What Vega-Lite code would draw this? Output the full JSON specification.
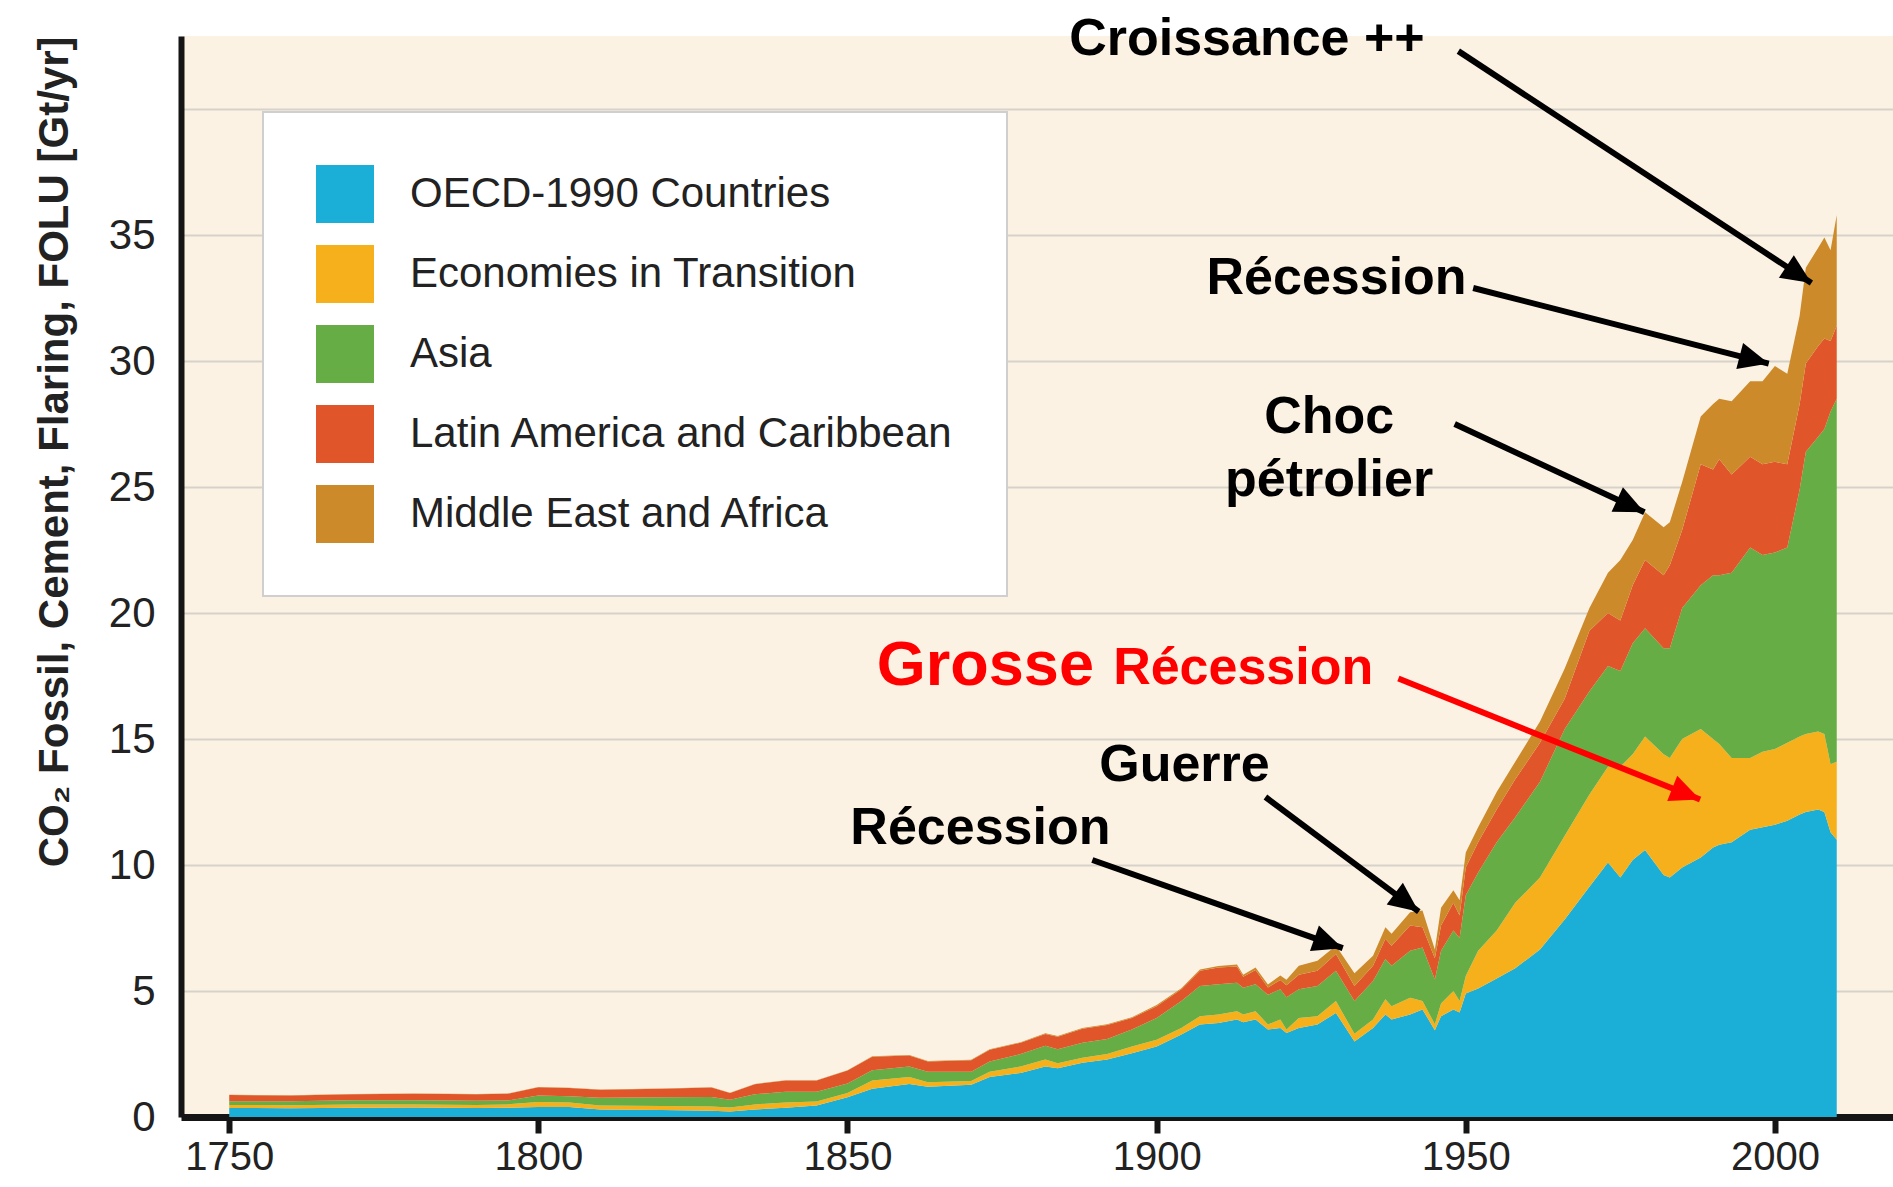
{
  "$schema": "https://vega.github.io/schema/vega-lite/v6.json",
  "width": 1712,
  "height": 1081,
  "autosize": {"type": "none"},
  "padding": {"left": 181, "top": 36, "right": 0, "bottom": 70},
  "background": "white",
  "config": {
    "view": {"fill": "#FCF2E3", "stroke": null},
    "font": "Liberation Sans",
    "legend": {"strokeWidth": 2}
  },
  "datasets": {
    "regionOrder": [
      {"region": "OECD-1990 Countries", "rank": 1},
      {"region": "Economies in Transition", "rank": 2},
      {"region": "Asia", "rank": 3},
      {"region": "Latin America and Caribbean", "rank": 4},
      {"region": "Middle East and Africa", "rank": 5}
    ],
    "emissions": [
      {"year":1750,"region":"OECD-1990 Countries","value":0.36},{"year":1750,"region":"Economies in Transition","value":0.12},{"year":1750,"region":"Asia","value":0.15},{"year":1750,"region":"Latin America and Caribbean","value":0.24},{"year":1750,"region":"Middle East and Africa","value":0.01},
      {"year":1760,"region":"OECD-1990 Countries","value":0.35},{"year":1760,"region":"Economies in Transition","value":0.12},{"year":1760,"region":"Asia","value":0.16},{"year":1760,"region":"Latin America and Caribbean","value":0.22},{"year":1760,"region":"Middle East and Africa","value":0.01},
      {"year":1770,"region":"OECD-1990 Countries","value":0.37},{"year":1770,"region":"Economies in Transition","value":0.13},{"year":1770,"region":"Asia","value":0.16},{"year":1770,"region":"Latin America and Caribbean","value":0.24},{"year":1770,"region":"Middle East and Africa","value":0.01},
      {"year":1780,"region":"OECD-1990 Countries","value":0.38},{"year":1780,"region":"Economies in Transition","value":0.12},{"year":1780,"region":"Asia","value":0.16},{"year":1780,"region":"Latin America and Caribbean","value":0.26},{"year":1780,"region":"Middle East and Africa","value":0.01},
      {"year":1790,"region":"OECD-1990 Countries","value":0.36},{"year":1790,"region":"Economies in Transition","value":0.12},{"year":1790,"region":"Asia","value":0.16},{"year":1790,"region":"Latin America and Caribbean","value":0.26},{"year":1790,"region":"Middle East and Africa","value":0.01},
      {"year":1795,"region":"OECD-1990 Countries","value":0.37},{"year":1795,"region":"Economies in Transition","value":0.13},{"year":1795,"region":"Asia","value":0.15},{"year":1795,"region":"Latin America and Caribbean","value":0.27},{"year":1795,"region":"Middle East and Africa","value":0.01},
      {"year":1800,"region":"OECD-1990 Countries","value":0.40},{"year":1800,"region":"Economies in Transition","value":0.20},{"year":1800,"region":"Asia","value":0.25},{"year":1800,"region":"Latin America and Caribbean","value":0.33},{"year":1800,"region":"Middle East and Africa","value":0.01},
      {"year":1805,"region":"OECD-1990 Countries","value":0.40},{"year":1805,"region":"Economies in Transition","value":0.18},{"year":1805,"region":"Asia","value":0.24},{"year":1805,"region":"Latin America and Caribbean","value":0.33},{"year":1805,"region":"Middle East and Africa","value":0.01},
      {"year":1810,"region":"OECD-1990 Countries","value":0.30},{"year":1810,"region":"Economies in Transition","value":0.16},{"year":1810,"region":"Asia","value":0.30},{"year":1810,"region":"Latin America and Caribbean","value":0.32},{"year":1810,"region":"Middle East and Africa","value":0.01},
      {"year":1820,"region":"OECD-1990 Countries","value":0.28},{"year":1820,"region":"Economies in Transition","value":0.16},{"year":1820,"region":"Asia","value":0.34},{"year":1820,"region":"Latin America and Caribbean","value":0.34},{"year":1820,"region":"Middle East and Africa","value":0.01},
      {"year":1828,"region":"OECD-1990 Countries","value":0.25},{"year":1828,"region":"Economies in Transition","value":0.17},{"year":1828,"region":"Asia","value":0.37},{"year":1828,"region":"Latin America and Caribbean","value":0.38},{"year":1828,"region":"Middle East and Africa","value":0.01},
      {"year":1831,"region":"OECD-1990 Countries","value":0.22},{"year":1831,"region":"Economies in Transition","value":0.16},{"year":1831,"region":"Asia","value":0.30},{"year":1831,"region":"Latin America and Caribbean","value":0.27},{"year":1831,"region":"Middle East and Africa","value":0.01},
      {"year":1835,"region":"OECD-1990 Countries","value":0.30},{"year":1835,"region":"Economies in Transition","value":0.20},{"year":1835,"region":"Asia","value":0.40},{"year":1835,"region":"Latin America and Caribbean","value":0.40},{"year":1835,"region":"Middle East and Africa","value":0.01},
      {"year":1840,"region":"OECD-1990 Countries","value":0.37},{"year":1840,"region":"Economies in Transition","value":0.21},{"year":1840,"region":"Asia","value":0.42},{"year":1840,"region":"Latin America and Caribbean","value":0.45},{"year":1840,"region":"Middle East and Africa","value":0.01},
      {"year":1845,"region":"OECD-1990 Countries","value":0.46},{"year":1845,"region":"Economies in Transition","value":0.16},{"year":1845,"region":"Asia","value":0.38},{"year":1845,"region":"Latin America and Caribbean","value":0.45},{"year":1845,"region":"Middle East and Africa","value":0.01},
      {"year":1850,"region":"OECD-1990 Countries","value":0.78},{"year":1850,"region":"Economies in Transition","value":0.17},{"year":1850,"region":"Asia","value":0.38},{"year":1850,"region":"Latin America and Caribbean","value":0.52},{"year":1850,"region":"Middle East and Africa","value":0.01},
      {"year":1854,"region":"OECD-1990 Countries","value":1.12},{"year":1854,"region":"Economies in Transition","value":0.33},{"year":1854,"region":"Asia","value":0.41},{"year":1854,"region":"Latin America and Caribbean","value":0.53},{"year":1854,"region":"Middle East and Africa","value":0.02},
      {"year":1860,"region":"OECD-1990 Countries","value":1.31},{"year":1860,"region":"Economies in Transition","value":0.28},{"year":1860,"region":"Asia","value":0.41},{"year":1860,"region":"Latin America and Caribbean","value":0.44},{"year":1860,"region":"Middle East and Africa","value":0.02},
      {"year":1863,"region":"OECD-1990 Countries","value":1.20},{"year":1863,"region":"Economies in Transition","value":0.18},{"year":1863,"region":"Asia","value":0.42},{"year":1863,"region":"Latin America and Caribbean","value":0.40},{"year":1863,"region":"Middle East and Africa","value":0.02},
      {"year":1870,"region":"OECD-1990 Countries","value":1.28},{"year":1870,"region":"Economies in Transition","value":0.15},{"year":1870,"region":"Asia","value":0.37},{"year":1870,"region":"Latin America and Caribbean","value":0.45},{"year":1870,"region":"Middle East and Africa","value":0.02},
      {"year":1873,"region":"OECD-1990 Countries","value":1.59},{"year":1873,"region":"Economies in Transition","value":0.21},{"year":1873,"region":"Asia","value":0.40},{"year":1873,"region":"Latin America and Caribbean","value":0.47},{"year":1873,"region":"Middle East and Africa","value":0.02},
      {"year":1878,"region":"OECD-1990 Countries","value":1.75},{"year":1878,"region":"Economies in Transition","value":0.25},{"year":1878,"region":"Asia","value":0.50},{"year":1878,"region":"Latin America and Caribbean","value":0.45},{"year":1878,"region":"Middle East and Africa","value":0.02},
      {"year":1882,"region":"OECD-1990 Countries","value":2.00},{"year":1882,"region":"Economies in Transition","value":0.28},{"year":1882,"region":"Asia","value":0.55},{"year":1882,"region":"Latin America and Caribbean","value":0.46},{"year":1882,"region":"Middle East and Africa","value":0.03},
      {"year":1884,"region":"OECD-1990 Countries","value":1.93},{"year":1884,"region":"Economies in Transition","value":0.20},{"year":1884,"region":"Asia","value":0.56},{"year":1884,"region":"Latin America and Caribbean","value":0.49},{"year":1884,"region":"Middle East and Africa","value":0.03},
      {"year":1888,"region":"OECD-1990 Countries","value":2.15},{"year":1888,"region":"Economies in Transition","value":0.20},{"year":1888,"region":"Asia","value":0.60},{"year":1888,"region":"Latin America and Caribbean","value":0.55},{"year":1888,"region":"Middle East and Africa","value":0.03},
      {"year":1892,"region":"OECD-1990 Countries","value":2.28},{"year":1892,"region":"Economies in Transition","value":0.22},{"year":1892,"region":"Asia","value":0.60},{"year":1892,"region":"Latin America and Caribbean","value":0.55},{"year":1892,"region":"Middle East and Africa","value":0.03},
      {"year":1896,"region":"OECD-1990 Countries","value":2.53},{"year":1896,"region":"Economies in Transition","value":0.27},{"year":1896,"region":"Asia","value":0.67},{"year":1896,"region":"Latin America and Caribbean","value":0.46},{"year":1896,"region":"Middle East and Africa","value":0.03},
      {"year":1900,"region":"OECD-1990 Countries","value":2.80},{"year":1900,"region":"Economies in Transition","value":0.27},{"year":1900,"region":"Asia","value":0.86},{"year":1900,"region":"Latin America and Caribbean","value":0.47},{"year":1900,"region":"Middle East and Africa","value":0.04},
      {"year":1904,"region":"OECD-1990 Countries","value":3.27},{"year":1904,"region":"Economies in Transition","value":0.26},{"year":1904,"region":"Asia","value":1.07},{"year":1904,"region":"Latin America and Caribbean","value":0.47},{"year":1904,"region":"Middle East and Africa","value":0.04},
      {"year":1907,"region":"OECD-1990 Countries","value":3.67},{"year":1907,"region":"Economies in Transition","value":0.33},{"year":1907,"region":"Asia","value":1.20},{"year":1907,"region":"Latin America and Caribbean","value":0.60},{"year":1907,"region":"Middle East and Africa","value":0.05},
      {"year":1910,"region":"OECD-1990 Countries","value":3.73},{"year":1910,"region":"Economies in Transition","value":0.34},{"year":1910,"region":"Asia","value":1.20},{"year":1910,"region":"Latin America and Caribbean","value":0.66},{"year":1910,"region":"Middle East and Africa","value":0.06},
      {"year":1913,"region":"OECD-1990 Countries","value":3.87},{"year":1913,"region":"Economies in Transition","value":0.33},{"year":1913,"region":"Asia","value":1.13},{"year":1913,"region":"Latin America and Caribbean","value":0.64},{"year":1913,"region":"Middle East and Africa","value":0.08},
      {"year":1914,"region":"OECD-1990 Countries","value":3.76},{"year":1914,"region":"Economies in Transition","value":0.31},{"year":1914,"region":"Asia","value":1.06},{"year":1914,"region":"Latin America and Caribbean","value":0.44},{"year":1914,"region":"Middle East and Africa","value":0.08},
      {"year":1916,"region":"OECD-1990 Countries","value":3.87},{"year":1916,"region":"Economies in Transition","value":0.33},{"year":1916,"region":"Asia","value":1.07},{"year":1916,"region":"Latin America and Caribbean","value":0.56},{"year":1916,"region":"Middle East and Africa","value":0.10},
      {"year":1918,"region":"OECD-1990 Countries","value":3.47},{"year":1918,"region":"Economies in Transition","value":0.20},{"year":1918,"region":"Asia","value":1.18},{"year":1918,"region":"Latin America and Caribbean","value":0.29},{"year":1918,"region":"Middle East and Africa","value":0.12},
      {"year":1920,"region":"OECD-1990 Countries","value":3.53},{"year":1920,"region":"Economies in Transition","value":0.34},{"year":1920,"region":"Asia","value":1.20},{"year":1920,"region":"Latin America and Caribbean","value":0.37},{"year":1920,"region":"Middle East and Africa","value":0.18},
      {"year":1921,"region":"OECD-1990 Countries","value":3.33},{"year":1921,"region":"Economies in Transition","value":0.14},{"year":1921,"region":"Asia","value":1.28},{"year":1921,"region":"Latin America and Caribbean","value":0.48},{"year":1921,"region":"Middle East and Africa","value":0.22},
      {"year":1923,"region":"OECD-1990 Countries","value":3.53},{"year":1923,"region":"Economies in Transition","value":0.40},{"year":1923,"region":"Asia","value":1.14},{"year":1923,"region":"Latin America and Caribbean","value":0.58},{"year":1923,"region":"Middle East and Africa","value":0.35},
      {"year":1926,"region":"OECD-1990 Countries","value":3.67},{"year":1926,"region":"Economies in Transition","value":0.33},{"year":1926,"region":"Asia","value":1.20},{"year":1926,"region":"Latin America and Caribbean","value":0.60},{"year":1926,"region":"Middle East and Africa","value":0.40},
      {"year":1929,"region":"OECD-1990 Countries","value":4.13},{"year":1929,"region":"Economies in Transition","value":0.47},{"year":1929,"region":"Asia","value":1.20},{"year":1929,"region":"Latin America and Caribbean","value":0.67},{"year":1929,"region":"Middle East and Africa","value":0.33},
      {"year":1932,"region":"OECD-1990 Countries","value":3.00},{"year":1932,"region":"Economies in Transition","value":0.30},{"year":1932,"region":"Asia","value":1.30},{"year":1932,"region":"Latin America and Caribbean","value":0.60},{"year":1932,"region":"Middle East and Africa","value":0.50},
      {"year":1935,"region":"OECD-1990 Countries","value":3.53},{"year":1935,"region":"Economies in Transition","value":0.34},{"year":1935,"region":"Asia","value":1.53},{"year":1935,"region":"Latin America and Caribbean","value":0.60},{"year":1935,"region":"Middle East and Africa","value":0.40},
      {"year":1937,"region":"OECD-1990 Countries","value":4.07},{"year":1937,"region":"Economies in Transition","value":0.60},{"year":1937,"region":"Asia","value":1.60},{"year":1937,"region":"Latin America and Caribbean","value":0.80},{"year":1937,"region":"Middle East and Africa","value":0.46},
      {"year":1938,"region":"OECD-1990 Countries","value":3.87},{"year":1938,"region":"Economies in Transition","value":0.53},{"year":1938,"region":"Asia","value":1.60},{"year":1938,"region":"Latin America and Caribbean","value":0.80},{"year":1938,"region":"Middle East and Africa","value":0.47},
      {"year":1941,"region":"OECD-1990 Countries","value":4.07},{"year":1941,"region":"Economies in Transition","value":0.66},{"year":1941,"region":"Asia","value":1.87},{"year":1941,"region":"Latin America and Caribbean","value":1.00},{"year":1941,"region":"Middle East and Africa","value":0.53},
      {"year":1943,"region":"OECD-1990 Countries","value":4.27},{"year":1943,"region":"Economies in Transition","value":0.33},{"year":1943,"region":"Asia","value":2.13},{"year":1943,"region":"Latin America and Caribbean","value":0.80},{"year":1943,"region":"Middle East and Africa","value":0.67},
      {"year":1945,"region":"OECD-1990 Countries","value":3.44},{"year":1945,"region":"Economies in Transition","value":0.24},{"year":1945,"region":"Asia","value":1.78},{"year":1945,"region":"Latin America and Caribbean","value":0.84},{"year":1945,"region":"Middle East and Africa","value":0.35},
      {"year":1946,"region":"OECD-1990 Countries","value":4.00},{"year":1946,"region":"Economies in Transition","value":0.50},{"year":1946,"region":"Asia","value":2.10},{"year":1946,"region":"Latin America and Caribbean","value":1.00},{"year":1946,"region":"Middle East and Africa","value":0.70},
      {"year":1948,"region":"OECD-1990 Countries","value":4.27},{"year":1948,"region":"Economies in Transition","value":0.73},{"year":1948,"region":"Asia","value":2.40},{"year":1948,"region":"Latin America and Caribbean","value":1.10},{"year":1948,"region":"Middle East and Africa","value":0.50},
      {"year":1949,"region":"OECD-1990 Countries","value":4.15},{"year":1949,"region":"Economies in Transition","value":0.45},{"year":1949,"region":"Asia","value":2.50},{"year":1949,"region":"Latin America and Caribbean","value":0.90},{"year":1949,"region":"Middle East and Africa","value":0.60},
      {"year":1950,"region":"OECD-1990 Countries","value":4.90},{"year":1950,"region":"Economies in Transition","value":0.70},{"year":1950,"region":"Asia","value":3.20},{"year":1950,"region":"Latin America and Caribbean","value":1.10},{"year":1950,"region":"Middle East and Africa","value":0.60},
      {"year":1952,"region":"OECD-1990 Countries","value":5.10},{"year":1952,"region":"Economies in Transition","value":1.50},{"year":1952,"region":"Asia","value":3.10},{"year":1952,"region":"Latin America and Caribbean","value":1.20},{"year":1952,"region":"Middle East and Africa","value":0.60},
      {"year":1955,"region":"OECD-1990 Countries","value":5.50},{"year":1955,"region":"Economies in Transition","value":1.90},{"year":1955,"region":"Asia","value":3.50},{"year":1955,"region":"Latin America and Caribbean","value":1.30},{"year":1955,"region":"Middle East and Africa","value":0.70},
      {"year":1958,"region":"OECD-1990 Countries","value":5.90},{"year":1958,"region":"Economies in Transition","value":2.60},{"year":1958,"region":"Asia","value":3.40},{"year":1958,"region":"Latin America and Caribbean","value":1.50},{"year":1958,"region":"Middle East and Africa","value":0.70},
      {"year":1962,"region":"OECD-1990 Countries","value":6.65},{"year":1962,"region":"Economies in Transition","value":2.85},{"year":1962,"region":"Asia","value":3.80},{"year":1962,"region":"Latin America and Caribbean","value":1.55},{"year":1962,"region":"Middle East and Africa","value":0.85},
      {"year":1966,"region":"OECD-1990 Countries","value":7.84},{"year":1966,"region":"Economies in Transition","value":3.32},{"year":1966,"region":"Asia","value":4.24},{"year":1966,"region":"Latin America and Caribbean","value":1.20},{"year":1966,"region":"Middle East and Africa","value":1.20},
      {"year":1970,"region":"OECD-1990 Countries","value":9.14},{"year":1970,"region":"Economies in Transition","value":3.66},{"year":1970,"region":"Asia","value":4.10},{"year":1970,"region":"Latin America and Caribbean","value":2.40},{"year":1970,"region":"Middle East and Africa","value":0.90},
      {"year":1973,"region":"OECD-1990 Countries","value":10.10},{"year":1973,"region":"Economies in Transition","value":3.80},{"year":1973,"region":"Asia","value":4.00},{"year":1973,"region":"Latin America and Caribbean","value":2.10},{"year":1973,"region":"Middle East and Africa","value":1.60},
      {"year":1975,"region":"OECD-1990 Countries","value":9.50},{"year":1975,"region":"Economies in Transition","value":4.40},{"year":1975,"region":"Asia","value":3.80},{"year":1975,"region":"Latin America and Caribbean","value":2.00},{"year":1975,"region":"Middle East and Africa","value":2.40},
      {"year":1977,"region":"OECD-1990 Countries","value":10.20},{"year":1977,"region":"Economies in Transition","value":4.20},{"year":1977,"region":"Asia","value":4.40},{"year":1977,"region":"Latin America and Caribbean","value":2.30},{"year":1977,"region":"Middle East and Africa","value":1.80},
      {"year":1979,"region":"OECD-1990 Countries","value":10.60},{"year":1979,"region":"Economies in Transition","value":4.50},{"year":1979,"region":"Asia","value":4.30},{"year":1979,"region":"Latin America and Caribbean","value":2.70},{"year":1979,"region":"Middle East and Africa","value":1.90},
      {"year":1982,"region":"OECD-1990 Countries","value":9.60},{"year":1982,"region":"Economies in Transition","value":4.80},{"year":1982,"region":"Asia","value":4.20},{"year":1982,"region":"Latin America and Caribbean","value":2.90},{"year":1982,"region":"Middle East and Africa","value":1.90},
      {"year":1983,"region":"OECD-1990 Countries","value":9.50},{"year":1983,"region":"Economies in Transition","value":4.75},{"year":1983,"region":"Asia","value":4.35},{"year":1983,"region":"Latin America and Caribbean","value":3.30},{"year":1983,"region":"Middle East and Africa","value":1.70},
      {"year":1985,"region":"OECD-1990 Countries","value":9.90},{"year":1985,"region":"Economies in Transition","value":5.10},{"year":1985,"region":"Asia","value":5.20},{"year":1985,"region":"Latin America and Caribbean","value":3.10},{"year":1985,"region":"Middle East and Africa","value":1.90},
      {"year":1988,"region":"OECD-1990 Countries","value":10.30},{"year":1988,"region":"Economies in Transition","value":5.10},{"year":1988,"region":"Asia","value":5.70},{"year":1988,"region":"Latin America and Caribbean","value":4.80},{"year":1988,"region":"Middle East and Africa","value":1.90},
      {"year":1990,"region":"OECD-1990 Countries","value":10.70},{"year":1990,"region":"Economies in Transition","value":4.30},{"year":1990,"region":"Asia","value":6.50},{"year":1990,"region":"Latin America and Caribbean","value":4.20},{"year":1990,"region":"Middle East and Africa","value":2.60},
      {"year":1991,"region":"OECD-1990 Countries","value":10.80},{"year":1991,"region":"Economies in Transition","value":4.00},{"year":1991,"region":"Asia","value":6.70},{"year":1991,"region":"Latin America and Caribbean","value":4.60},{"year":1991,"region":"Middle East and Africa","value":2.40},
      {"year":1993,"region":"OECD-1990 Countries","value":10.90},{"year":1993,"region":"Economies in Transition","value":3.35},{"year":1993,"region":"Asia","value":7.35},{"year":1993,"region":"Latin America and Caribbean","value":3.90},{"year":1993,"region":"Middle East and Africa","value":2.90},
      {"year":1996,"region":"OECD-1990 Countries","value":11.40},{"year":1996,"region":"Economies in Transition","value":2.85},{"year":1996,"region":"Asia","value":8.35},{"year":1996,"region":"Latin America and Caribbean","value":3.60},{"year":1996,"region":"Middle East and Africa","value":3.00},
      {"year":1998,"region":"OECD-1990 Countries","value":11.50},{"year":1998,"region":"Economies in Transition","value":3.00},{"year":1998,"region":"Asia","value":7.80},{"year":1998,"region":"Latin America and Caribbean","value":3.60},{"year":1998,"region":"Middle East and Africa","value":3.30},
      {"year":2000,"region":"OECD-1990 Countries","value":11.60},{"year":2000,"region":"Economies in Transition","value":3.00},{"year":2000,"region":"Asia","value":7.80},{"year":2000,"region":"Latin America and Caribbean","value":3.60},{"year":2000,"region":"Middle East and Africa","value":3.80},
      {"year":2002,"region":"OECD-1990 Countries","value":11.76},{"year":2002,"region":"Economies in Transition","value":3.09},{"year":2002,"region":"Asia","value":7.75},{"year":2002,"region":"Latin America and Caribbean","value":3.30},{"year":2002,"region":"Middle East and Africa","value":3.60},
      {"year":2004,"region":"OECD-1990 Countries","value":12.00},{"year":2004,"region":"Economies in Transition","value":3.10},{"year":2004,"region":"Asia","value":9.80},{"year":2004,"region":"Latin America and Caribbean","value":3.40},{"year":2004,"region":"Middle East and Africa","value":3.50},
      {"year":2005,"region":"OECD-1990 Countries","value":12.10},{"year":2005,"region":"Economies in Transition","value":3.10},{"year":2005,"region":"Asia","value":11.20},{"year":2005,"region":"Latin America and Caribbean","value":3.50},{"year":2005,"region":"Middle East and Africa","value":3.80},
      {"year":2007,"region":"OECD-1990 Countries","value":12.20},{"year":2007,"region":"Economies in Transition","value":3.10},{"year":2007,"region":"Asia","value":11.70},{"year":2007,"region":"Latin America and Caribbean","value":3.60},{"year":2007,"region":"Middle East and Africa","value":3.90},
      {"year":2008,"region":"OECD-1990 Countries","value":12.10},{"year":2008,"region":"Economies in Transition","value":3.10},{"year":2008,"region":"Asia","value":12.10},{"year":2008,"region":"Latin America and Caribbean","value":3.60},{"year":2008,"region":"Middle East and Africa","value":4.00},
      {"year":2009,"region":"OECD-1990 Countries","value":11.30},{"year":2009,"region":"Economies in Transition","value":2.70},{"year":2009,"region":"Asia","value":14.00},{"year":2009,"region":"Latin America and Caribbean","value":2.80},{"year":2009,"region":"Middle East and Africa","value":3.60},
      {"year":2010,"region":"OECD-1990 Countries","value":11.00},{"year":2010,"region":"Economies in Transition","value":3.10},{"year":2010,"region":"Asia","value":14.40},{"year":2010,"region":"Latin America and Caribbean","value":2.90},{"year":2010,"region":"Middle East and Africa","value":4.40}
    ],
    "arrowsBlack": [
      {"x1":1948.8,"y1":42.3,"x2":2005.9,"y2":33.1,"angle":33.5},
      {"x1":1951.2,"y1":32.9,"x2":1999.0,"y2":29.9,"angle":14.6},
      {"x1":1948.2,"y1":27.5,"x2":1978.9,"y2":24.0,"angle":24.9},
      {"x1":1917.6,"y1":12.7,"x2":1942.4,"y2":8.15,"angle":36.8},
      {"x1":1889.6,"y1":10.2,"x2":1930.1,"y2":6.7,"angle":19.4}
    ],
    "arrowsRed": [
      {"x1":1939.1,"y1":17.4,"x2":1987.9,"y2":12.6,"angle":21.8}
    ],
    "labelsBlack": [
      {"x":1914.6,"y":42.8,"label":"Croissance ++"},
      {"x":1929.1,"y":33.3,"label":"Récession"},
      {"x":1927.9,"y":27.76,"label":"Choc\npétrolier"},
      {"x":1904.5,"y":13.95,"label":"Guerre"},
      {"x":1871.5,"y":11.46,"label":"Récession"}
    ],
    "labelGrosse": [{"x":1872.3,"y":17.9,"label":"Grosse"}],
    "labelRedRecession": [{"x":1914.0,"y":17.8,"label":"Récession"}]
  },
  "layer": [
    {
      "data": {"name": "emissions"},
      "transform": [
        {"lookup": "region", "from": {"data": {"name": "regionOrder"}, "key": "region", "fields": ["rank"]}}
      ],
      "mark": {"type": "area", "interpolate": "linear"},
      "encoding": {
        "x": {
          "field": "year", "type": "quantitative",
          "scale": {"domain": [1742.2, 2019.1], "nice": false, "zero": false},
          "axis": {
            "title": null,
            "values": [1750, 1800, 1850, 1900, 1950, 2000],
            "format": "d",
            "grid": false,
            "domainColor": "#151515", "domainWidth": 7,
            "tickColor": "#151515", "tickWidth": 6, "tickSize": 16,
            "labelFont": "Liberation Sans", "labelFontSize": 40, "labelColor": "#222222",
            "labelPadding": 4
          }
        },
        "y": {
          "field": "value", "type": "quantitative", "stack": "zero",
          "scale": {"domain": [0, 42.9], "nice": false},
          "axis": {
            "title": "CO₂ Fossil, Cement, Flaring, FOLU [Gt/yr]",
            "values": [0, 5, 10, 15, 20, 25, 30, 35, 40],
            "labelExpr": "datum.value == 40 ? '' : datum.label",
            "grid": true, "gridColor": "#D6D1C9", "gridWidth": 2,
            "domainColor": "#151515", "domainWidth": 6,
            "ticks": false,
            "labelFont": "Liberation Sans", "labelFontSize": 42, "labelColor": "#222222",
            "labelPadding": 26,
            "titleFont": "Liberation Sans", "titleFontWeight": "bold", "titleFontSize": 42,
            "titleColor": "#222222", "titleAnchor": "end", "titlePadding": 32
          }
        },
        "order": {"field": "rank", "type": "quantitative"},
        "color": {
          "field": "region", "type": "nominal",
          "sort": ["OECD-1990 Countries", "Economies in Transition", "Asia", "Latin America and Caribbean", "Middle East and Africa"],
          "scale": {
            "domain": ["OECD-1990 Countries", "Economies in Transition", "Asia", "Latin America and Caribbean", "Middle East and Africa"],
            "range": ["#1BAED6", "#F6B01C", "#67AD45", "#E0562A", "#CC8A2B"]
          },
          "legend": {
            "orient": "none", "legendX": 82, "legendY": 76, "title": null,
            "fillColor": "white", "strokeColor": "#CFCFCF", "padding": 53,
            "symbolType": "square", "symbolSize": 3364, "symbolStrokeWidth": 0, "symbolOpacity": 1,
            "labelFont": "Liberation Sans", "labelFontSize": 42, "labelColor": "#222222",
            "labelOffset": 36, "rowPadding": 22, "labelLimit": 900
          }
        }
      }
    },
    {
      "data": {"name": "arrowsBlack"},
      "mark": {"type": "rule", "color": "black", "strokeWidth": 6, "strokeCap": "butt"},
      "encoding": {
        "x": {"field": "x1", "type": "quantitative", "scale": {"domain": [1742.2, 2019.1], "nice": false, "zero": false}},
        "y": {"field": "y1", "type": "quantitative", "scale": {"domain": [0, 42.9], "nice": false}},
        "x2": {"field": "x2"},
        "y2": {"field": "y2"}
      }
    },
    {
      "data": {"name": "arrowsBlack"},
      "mark": {"type": "point", "shape": "M0,0L-2,-0.9L-2,0.9Z", "filled": true, "color": "black", "size": 900, "opacity": 1, "strokeWidth": 0},
      "encoding": {
        "x": {"field": "x2", "type": "quantitative", "scale": {"domain": [1742.2, 2019.1], "nice": false, "zero": false}},
        "y": {"field": "y2", "type": "quantitative", "scale": {"domain": [0, 42.9], "nice": false}},
        "angle": {"field": "angle", "type": "quantitative", "scale": null}
      }
    },
    {
      "data": {"name": "arrowsRed"},
      "mark": {"type": "rule", "color": "#FF0000", "strokeWidth": 6, "strokeCap": "butt"},
      "encoding": {
        "x": {"field": "x1", "type": "quantitative", "scale": {"domain": [1742.2, 2019.1], "nice": false, "zero": false}},
        "y": {"field": "y1", "type": "quantitative", "scale": {"domain": [0, 42.9], "nice": false}},
        "x2": {"field": "x2"},
        "y2": {"field": "y2"}
      }
    },
    {
      "data": {"name": "arrowsRed"},
      "mark": {"type": "point", "shape": "M0,0L-2,-0.9L-2,0.9Z", "filled": true, "color": "#FF0000", "size": 900, "opacity": 1, "strokeWidth": 0},
      "encoding": {
        "x": {"field": "x2", "type": "quantitative", "scale": {"domain": [1742.2, 2019.1], "nice": false, "zero": false}},
        "y": {"field": "y2", "type": "quantitative", "scale": {"domain": [0, 42.9], "nice": false}},
        "angle": {"field": "angle", "type": "quantitative", "scale": null}
      }
    },
    {
      "data": {"name": "labelsBlack"},
      "mark": {"type": "text", "font": "Liberation Sans", "fontWeight": "bold", "fontSize": 52, "color": "black", "align": "center", "baseline": "middle", "lineBreak": "\n", "lineHeight": 63},
      "encoding": {
        "x": {"field": "x", "type": "quantitative", "scale": {"domain": [1742.2, 2019.1], "nice": false, "zero": false}},
        "y": {"field": "y", "type": "quantitative", "scale": {"domain": [0, 42.9], "nice": false}},
        "text": {"field": "label"}
      }
    },
    {
      "data": {"name": "labelGrosse"},
      "mark": {"type": "text", "font": "Liberation Sans", "fontWeight": "bold", "fontSize": 63, "color": "#FF0000", "align": "center", "baseline": "middle"},
      "encoding": {
        "x": {"field": "x", "type": "quantitative", "scale": {"domain": [1742.2, 2019.1], "nice": false, "zero": false}},
        "y": {"field": "y", "type": "quantitative", "scale": {"domain": [0, 42.9], "nice": false}},
        "text": {"field": "label"}
      }
    },
    {
      "data": {"name": "labelRedRecession"},
      "mark": {"type": "text", "font": "Liberation Sans", "fontWeight": "bold", "fontSize": 52, "color": "#FF0000", "align": "center", "baseline": "middle"},
      "encoding": {
        "x": {"field": "x", "type": "quantitative", "scale": {"domain": [1742.2, 2019.1], "nice": false, "zero": false}},
        "y": {"field": "y", "type": "quantitative", "scale": {"domain": [0, 42.9], "nice": false}},
        "text": {"field": "label"}
      }
    }
  ]
}
